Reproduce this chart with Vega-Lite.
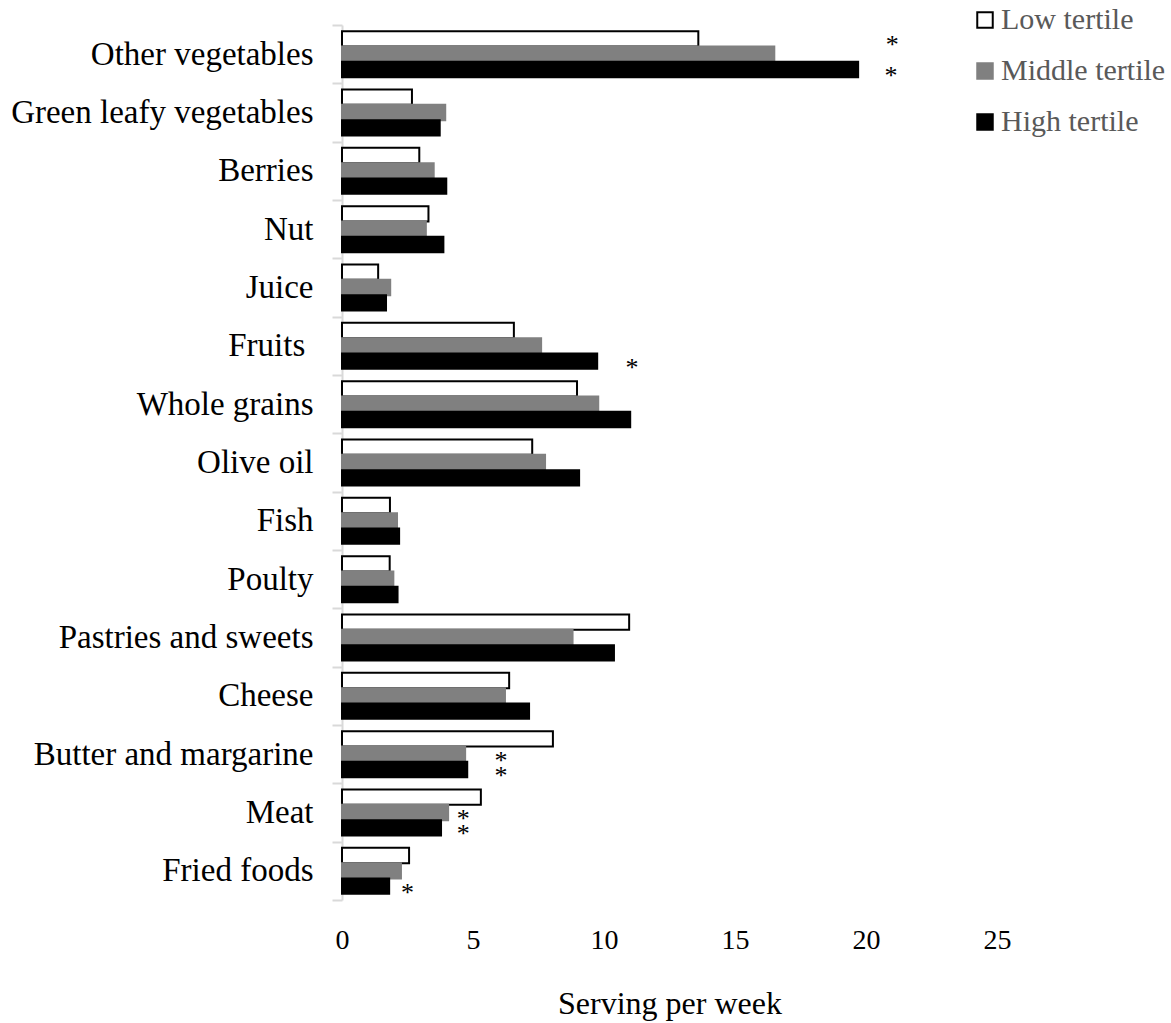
{
  "$schema": "https://vega.github.io/schema/vega-lite/v6.json",
  "autosize": {"type": "none"},
  "width": 655,
  "height": 875,
  "padding": {"left": 342, "top": 25, "right": 174, "bottom": 123},
  "background": "white",
  "config": {"view": {"stroke": null}, "font": "Liberation Serif"},
  "datasets": {
    "bars": [
      {"food": "Other vegetables", "tertile": "Low tertile", "value": 13.6},
      {"food": "Other vegetables", "tertile": "Middle tertile", "value": 16.5},
      {"food": "Other vegetables", "tertile": "High tertile", "value": 19.7},
      {"food": "Green leafy vegetables", "tertile": "Low tertile", "value": 2.67},
      {"food": "Green leafy vegetables", "tertile": "Middle tertile", "value": 3.94},
      {"food": "Green leafy vegetables", "tertile": "High tertile", "value": 3.73},
      {"food": "Berries", "tertile": "Low tertile", "value": 2.95},
      {"food": "Berries", "tertile": "Middle tertile", "value": 3.5},
      {"food": "Berries", "tertile": "High tertile", "value": 3.98},
      {"food": "Nut", "tertile": "Low tertile", "value": 3.3},
      {"food": "Nut", "tertile": "Middle tertile", "value": 3.2},
      {"food": "Nut", "tertile": "High tertile", "value": 3.87},
      {"food": "Juice", "tertile": "Low tertile", "value": 1.38},
      {"food": "Juice", "tertile": "Middle tertile", "value": 1.84},
      {"food": "Juice", "tertile": "High tertile", "value": 1.68},
      {"food": "Fruits\u00a0\u200b", "tertile": "Low tertile", "value": 6.56},
      {"food": "Fruits\u00a0\u200b", "tertile": "Middle tertile", "value": 7.6},
      {"food": "Fruits\u00a0\u200b", "tertile": "High tertile", "value": 9.74},
      {"food": "Whole grains", "tertile": "Low tertile", "value": 8.97},
      {"food": "Whole grains", "tertile": "Middle tertile", "value": 9.78},
      {"food": "Whole grains", "tertile": "High tertile", "value": 11.0},
      {"food": "Olive oil", "tertile": "Low tertile", "value": 7.26},
      {"food": "Olive oil", "tertile": "Middle tertile", "value": 7.75},
      {"food": "Olive oil", "tertile": "High tertile", "value": 9.05},
      {"food": "Fish", "tertile": "Low tertile", "value": 1.83},
      {"food": "Fish", "tertile": "Middle tertile", "value": 2.1},
      {"food": "Fish", "tertile": "High tertile", "value": 2.18},
      {"food": "Poulty", "tertile": "Low tertile", "value": 1.82},
      {"food": "Poulty", "tertile": "Middle tertile", "value": 1.96},
      {"food": "Poulty", "tertile": "High tertile", "value": 2.12},
      {"food": "Pastries and sweets", "tertile": "Low tertile", "value": 10.96},
      {"food": "Pastries and sweets", "tertile": "Middle tertile", "value": 8.8},
      {"food": "Pastries and sweets", "tertile": "High tertile", "value": 10.38},
      {"food": "Cheese", "tertile": "Low tertile", "value": 6.38},
      {"food": "Cheese", "tertile": "Middle tertile", "value": 6.22},
      {"food": "Cheese", "tertile": "High tertile", "value": 7.14},
      {"food": "Butter and margarine", "tertile": "Low tertile", "value": 8.05},
      {"food": "Butter and margarine", "tertile": "Middle tertile", "value": 4.7},
      {"food": "Butter and margarine", "tertile": "High tertile", "value": 4.78},
      {"food": "Meat", "tertile": "Low tertile", "value": 5.3},
      {"food": "Meat", "tertile": "Middle tertile", "value": 4.05},
      {"food": "Meat", "tertile": "High tertile", "value": 3.78},
      {"food": "Fried foods", "tertile": "Low tertile", "value": 2.56},
      {"food": "Fried foods", "tertile": "Middle tertile", "value": 2.25},
      {"food": "Fried foods", "tertile": "High tertile", "value": 1.8}
    ],
    "stars": [
      {"food": "Other vegetables", "tertile": "Low tertile", "position": 21.0},
      {"food": "Other vegetables", "tertile": "High tertile", "position": 20.95},
      {"food": "Fruits\u00a0\u200b", "tertile": "High tertile", "position": 11.07},
      {"food": "Butter and margarine", "tertile": "Middle tertile", "position": 6.07},
      {"food": "Butter and margarine", "tertile": "High tertile", "position": 6.07},
      {"food": "Meat", "tertile": "Middle tertile", "position": 4.63},
      {"food": "Meat", "tertile": "High tertile", "position": 4.63},
      {"food": "Fried foods", "tertile": "High tertile", "position": 2.5}
    ]
  },
  "layer": [
    {
      "data": {"name": "bars"},
      "mark": {"type": "bar", "strokeWidth": 2},
      "encoding": {
        "y": {
          "field": "food", "type": "nominal",
          "scale": {
            "domain": ["Other vegetables", "Green leafy vegetables", "Berries", "Nut", "Juice", "Fruits\u00a0\u200b", "Whole grains", "Olive oil", "Fish", "Poulty", "Pastries and sweets", "Cheese", "Butter and margarine", "Meat", "Fried foods"],
            "paddingInner": 0, "paddingOuter": 0
          },
          "axis": {
            "title": null, "domainColor": "#d9d9d9", "domainWidth": 2,
            "tickColor": "#d9d9d9", "tickWidth": 2, "tickSize": 10, "tickBand": "extent",
            "labelFontSize": 33, "labelColor": "black", "labelPadding": 19,
            "labelFont": "Liberation Serif", "labelLimit": 400
          }
        },
        "yOffset": {
          "field": "tertile", "type": "nominal",
          "scale": {"domain": ["Low tertile", "Middle tertile", "High tertile"], "paddingOuter": 0.4, "paddingInner": 0}
        },
        "x": {
          "field": "value", "type": "quantitative",
          "scale": {"domain": [0, 25], "nice": false},
          "axis": {
            "values": [0, 5, 10, 15, 20, 25], "domain": false, "ticks": false, "grid": false,
            "labelFlush": false, "labelFontSize": 28, "labelColor": "black", "labelPadding": 26,
            "labelFont": "Liberation Serif",
            "title": "Serving per week", "titleFontSize": 32, "titleFontWeight": "normal",
            "titleColor": "black", "titleFont": "Liberation Serif", "titlePadding": 34
          }
        },
        "fill": {
          "field": "tertile", "type": "nominal",
          "scale": {"domain": ["Low tertile", "Middle tertile", "High tertile"], "range": ["white", "#808080", "black"]},
          "legend": {
            "orient": "none", "legendX": 628, "legendY": -20, "title": null, "padding": 0,
            "symbolType": "square", "symbolSize": 240, "symbolStrokeWidth": 2,
            "labelFontSize": 30, "labelColor": "#595959", "labelFont": "Liberation Serif",
            "labelLimit": 300, "rowPadding": 21, "labelOffset": 1
          }
        },
        "stroke": {
          "field": "tertile", "type": "nominal",
          "scale": {"domain": ["Low tertile", "Middle tertile", "High tertile"], "range": ["black", "#808080", "black"]},
          "legend": {
            "orient": "none", "legendX": 628, "legendY": -20, "title": null, "padding": 0,
            "symbolType": "square", "symbolSize": 240, "symbolStrokeWidth": 2,
            "labelFontSize": 30, "labelColor": "#595959", "labelFont": "Liberation Serif",
            "labelLimit": 300, "rowPadding": 21, "labelOffset": 1
          }
        }
      }
    },
    {
      "data": {"name": "stars"},
      "mark": {"type": "text", "text": "*", "fontSize": 26, "font": "Liberation Serif", "baseline": "middle", "dy": 6.5, "color": "black"},
      "encoding": {
        "y": {"field": "food", "type": "nominal"},
        "yOffset": {"field": "tertile", "type": "nominal"},
        "x": {"field": "position", "type": "quantitative"}
      }
    }
  ]
}
